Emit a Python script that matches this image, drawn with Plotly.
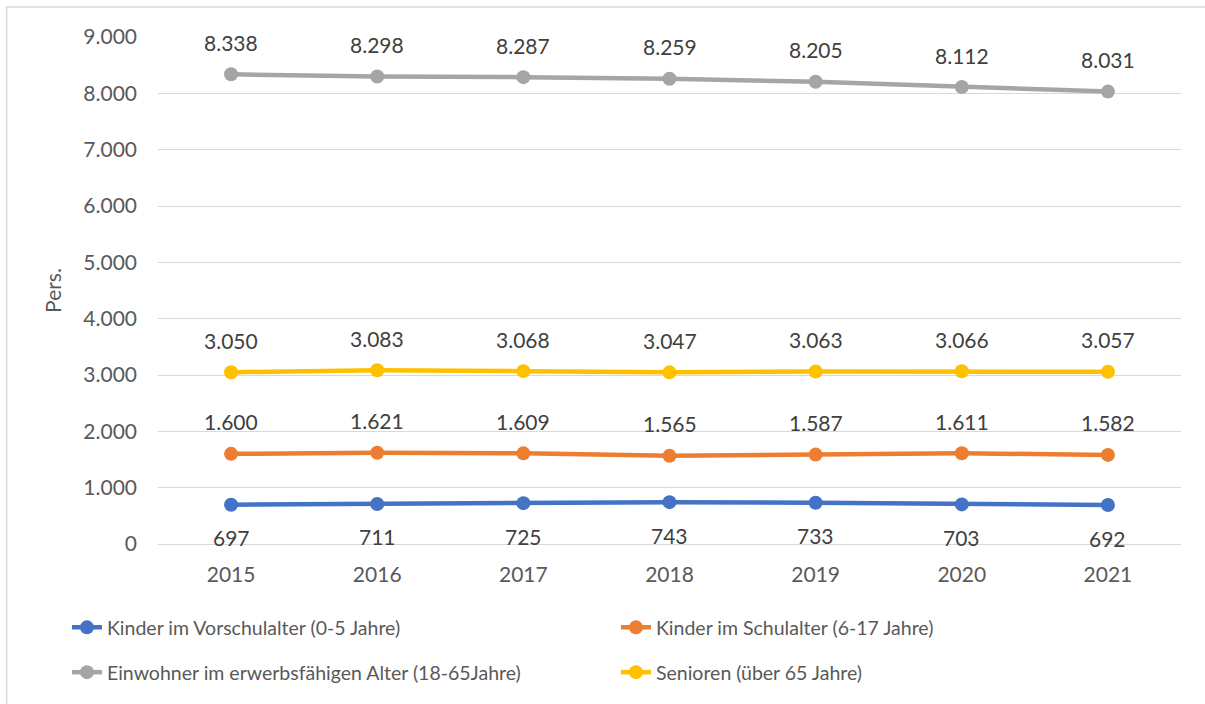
import plotly.graph_objs as go

years = ["2015", "2016", "2017", "2018", "2019", "2020", "2021"]
vorschule = [697, 711, 725, 743, 733, 703, 692]
schule = [1600, 1621, 1609, 1565, 1587, 1611, 1582]
erwerb = [8338, 8298, 8287, 8259, 8205, 8112, 8031]
senioren = [3050, 3083, 3068, 3047, 3063, 3066, 3057]

# name, values, colour, label offset (px), legend row
series = [
    ("Kinder im Vorschulalter (0-5 Jahre)", vorschule, "#4472C4", -33, "legend"),
    ("Kinder im Schulalter (6-17 Jahre)", schule, "#ED7D31", 32, "legend"),
    ("Einwohner im erwerbsfähigen Alter (18-65Jahre)", erwerb, "#A5A5A5", 32, "legend2"),
    ("Senioren (über 65 Jahre)", senioren, "#FFC000", 32, "legend2"),
]

FONT = "Lato, 'Open Sans', sans-serif"


def fmt(v):
    return f"{v:,}".replace(",", ".")


fig = go.Figure()
annotations = []
for name, vals, color, shift, leg in series:
    fig.add_trace(go.Scatter(x=years, y=vals, mode='lines+markers', name=name, legend=leg,
                             line=dict(color=color, width=4.5),
                             marker=dict(color=color, size=14)))
    for i, v in enumerate(vals):
        annotations.append(dict(x=i, y=v, xref='x', yref='y', text=fmt(v), showarrow=False,
                                yshift=shift, font=dict(size=21, color="#404040", family=FONT)))

legend_common = dict(orientation='h', xanchor='left', yanchor='middle', entrywidth=504,
                     font=dict(size=19.5, color="#595959", family=FONT), itemwidth=30,
                     bgcolor='rgba(0,0,0,0)')

fig.update_layout(
    width=1205, height=704,
    paper_bgcolor="white", plot_bgcolor="white",
    margin=dict(l=158, r=24, t=37, b=158),
    separators=",.",
    font=dict(family=FONT, size=21, color="#595959"),
    annotations=annotations,
    showlegend=True,
    legend=dict(x=-0.089, y=(546 - 630) / 509, **legend_common),
    legend2=dict(x=-0.089, y=(546 - 675) / 509, **legend_common),
    shapes=[dict(type='rect', xref='paper', yref='paper', x0=-0.148, x1=1.05, y0=-0.45, y1=1.059,
                 line=dict(color="#d9d9d9", width=1.5))],
)
fig.update_xaxes(type='category', range=[-0.5, 6.5], showgrid=False, showline=False,
                 ticks='', ticklabelstandoff=16, tickfont=dict(size=21, color="#595959"))
fig.update_yaxes(range=[0, 9000], dtick=1000, tickformat=",", showgrid=True, gridcolor="#d9d9d9",
                 gridwidth=1, zeroline=True, zerolinecolor="#d9d9d9", zerolinewidth=1,
                 ticklabelstandoff=20, tickfont=dict(size=21, color="#595959"),
                 title=dict(text="Pers.", standoff=15, font=dict(size=21, color="#595959")))

fig.write_html("out.html", config={"displayModeBar": False},
               post_script="document.body.style.margin='0';")
